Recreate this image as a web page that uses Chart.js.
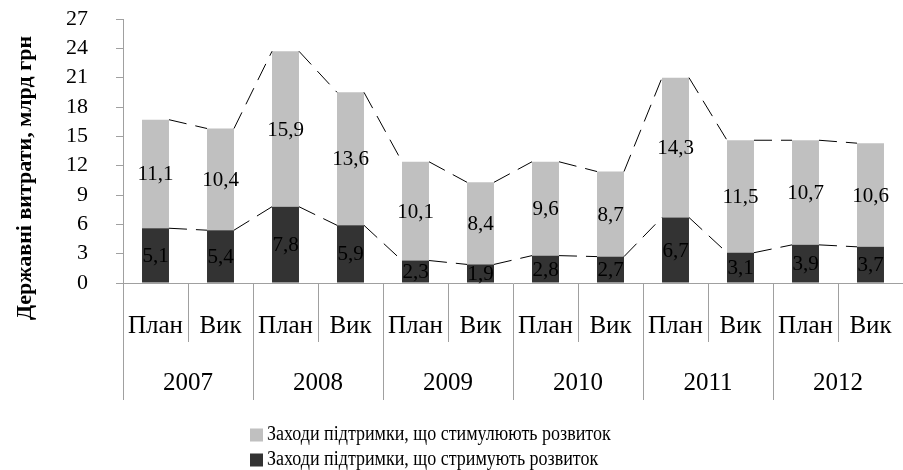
<!DOCTYPE html>
<html>
<head>
<meta charset="utf-8">
<script src="https://cdn.jsdelivr.net/npm/chart.js@4.4.1/dist/chart.umd.min.js"></script>
<style>
  html, body { margin: 0; padding: 0; background: #fff; }
</style>
</head>
<body>
<canvas id="chart" width="903" height="470"></canvas>
<script>
// categories
const years = ['2007', '2008', '2009', '2010', '2011', '2012'];
const kinds = ['План', 'Вик', 'План', 'Вик', 'План', 'Вик', 'План', 'Вик', 'План', 'Вик', 'План', 'Вик'];

// bar heights, bln UAH
const restraining = [5.6, 5.4, 7.8, 5.9, 2.3, 1.9, 2.8, 2.7, 6.7, 3.1, 3.9, 3.7];
const stimulating = [11.1, 10.4, 15.9, 13.6, 10.1, 8.4, 9.6, 8.7, 14.3, 11.5, 10.7, 10.6];

// printed labels (the first dark one differs from its bar in the original)
const restrainingLabels = ['5,1', '5,4', '7,8', '5,9', '2,3', '1,9', '2,8', '2,7', '6,7', '3,1', '3,9', '3,7'];
const stimulatingLabels = ['11,1', '10,4', '15,9', '13,6', '10,1', '8,4', '9,6', '8,7', '14,3', '11,5', '10,7', '10,6'];

const yTitle = 'Державні витрати, млрд грн';
const serif = "'Liberation Serif', 'Times New Roman', serif";
const axisGray = '#a0a0a0';

// dashed "series lines" between neighbouring bar tops
const seriesLines = {
  id: 'seriesLines',
  afterDatasetsDraw(chart) {
    const ctx = chart.ctx;
    ctx.save();
    ctx.strokeStyle = '#000';
    ctx.lineWidth = 1;
    ctx.setLineDash([18, 9]);
    chart.data.datasets.forEach((ds, i) => {
      const bars = chart.getDatasetMeta(i).data;
      for (let k = 0; k < bars.length - 1; k++) {
        const a = bars[k].getProps(['x', 'y', 'width'], true);
        const b = bars[k + 1].getProps(['x', 'y', 'width'], true);
        ctx.beginPath();
        ctx.moveTo(a.x + a.width / 2, a.y);
        ctx.lineTo(b.x - b.width / 2, b.y);
        ctx.stroke();
      }
    });
    ctx.restore();
  }
};

// value labels in the middle of each segment
const valueLabels = {
  id: 'valueLabels',
  afterDatasetsDraw(chart) {
    const ctx = chart.ctx;
    ctx.save();
    ctx.font = '21px ' + serif;
    ctx.fillStyle = '#000';
    ctx.textAlign = 'center';
    ctx.textBaseline = 'middle';
    chart.data.datasets.forEach((ds, i) => {
      chart.getDatasetMeta(i).data.forEach((bar, k) => {
        const p = bar.getProps(['x', 'y', 'base'], true);
        ctx.fillText(ds.valueText[k], p.x, (p.y + p.base) / 2 + 1);
      });
    });
    ctx.restore();
  }
};

// rotated y title and the two-row legend under the axis
const extras = {
  id: 'extras',
  afterDraw(chart) {
    const ctx = chart.ctx;
    ctx.save();
    ctx.translate(25, 178);
    ctx.rotate(-Math.PI / 2);
    ctx.font = 'bold 22px ' + serif;
    ctx.fillStyle = '#000';
    ctx.textAlign = 'center';
    ctx.textBaseline = 'middle';
    ctx.fillText(yTitle, 0, 0);
    ctx.restore();

    const ds = chart.data.datasets.slice().reverse();
    ctx.save();
    ctx.font = '20px ' + serif;
    ctx.textBaseline = 'middle';
    ds.forEach((d, r) => {
      const cy = 435 + r * 25;
      ctx.fillStyle = d.backgroundColor;
      ctx.fillRect(250, cy - 6.5, 13, 13);
      ctx.fillStyle = '#000';
      ctx.save();
      ctx.translate(267, cy);
      ctx.scale(0.9, 1);
      ctx.fillText(d.label, 0, 0);
      ctx.restore();
    });
    ctx.restore();
  }
};

new Chart(document.getElementById('chart'), {
  type: 'bar',
  data: {
    labels: kinds,
    datasets: [
      {
        label: 'Заходи підтримки, що стримують розвиток',
        data: restraining,
        valueText: restrainingLabels,
        backgroundColor: '#333333',
        barPercentage: 0.415,
        categoryPercentage: 1
      },
      {
        label: 'Заходи підтримки, що стимулюють розвиток',
        data: stimulating,
        valueText: stimulatingLabels,
        backgroundColor: '#c0c0c0',
        barPercentage: 0.415,
        categoryPercentage: 1
      }
    ]
  },
  options: {
    responsive: false,
    animation: false,
    layout: { padding: { top: 19, right: 0, bottom: 60, left: 0 } },
    plugins: {
      tooltip: { enabled: false },
      legend: { display: false }
    },
    scales: {
      x: {
        stacked: true,
        offset: true,
        weight: 0,
        grid: { offset: true, drawOnChartArea: false, tickLength: 59, color: axisGray },
        border: { color: axisGray },
        ticks: { color: '#000', font: { family: serif, size: 25 }, padding: -31, maxRotation: 0, autoSkip: false },
        afterFit(s) { s.height = 59; }
      },
      x2: {
        type: 'category',
        labels: years,
        position: 'bottom',
        offset: true,
        weight: 1,
        grid: { offset: true, drawOnChartArea: false, tickLength: 58, color: axisGray },
        border: { display: false },
        ticks: { color: '#000', font: { family: serif, size: 25 }, padding: -32, maxRotation: 0, autoSkip: false },
        afterFit(s) { s.height = 68; }
      },
      y: {
        stacked: true,
        min: 0,
        max: 27,
        grid: { drawOnChartArea: false, tickLength: 7, color: axisGray },
        border: { color: axisGray },
        ticks: { stepSize: 3, autoSkip: false, color: '#000', font: { family: serif, size: 22 }, padding: 28 },
        afterFit(s) {
          s.width = 123;
          s.paddingTop = 0;
          s.paddingBottom = 0;
        }
      }
    }
  },
  plugins: [seriesLines, valueLabels, extras]
});
</script>
</body>
</html>
